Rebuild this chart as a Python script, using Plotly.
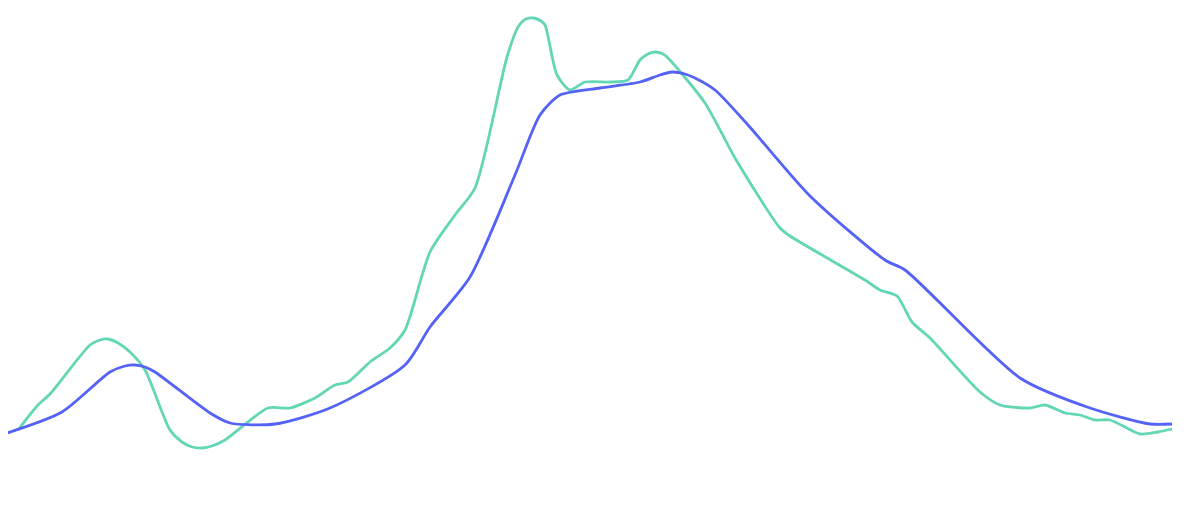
import plotly.graph_objects as go

# values (x: time step, y: level)
blue_x = [7, 62, 110, 125, 135, 145, 155, 210, 230, 275, 330, 405, 430, 470, 515,
          540, 560, 600, 640, 660, 672, 685, 695, 715, 748, 810, 885, 905, 1020,
          1090, 1150, 1172]
blue_y = [47, 68, 108, 114, 115, 113, 108, 67, 57, 56, 72, 115, 153, 203, 305,
          365, 385, 392, 398, 405, 408, 406, 402, 390, 355, 284, 220, 210, 102,
          72, 56, 56]

green_x = [18, 38, 50, 90, 100, 108, 118, 130, 145, 170, 182, 192, 202, 212, 225,
           268, 290, 315, 335, 348, 370, 390, 405, 430, 455, 475, 507, 518, 526,
           534, 541, 545, 557, 570, 585, 610, 628, 640, 648, 655, 663, 668, 705,
           735, 780, 790, 865, 880, 897, 912, 930, 980, 1000, 1030, 1045, 1065,
           1080, 1095, 1110, 1140, 1158, 1172]
green_y = [50, 75, 86, 135, 140, 141, 137, 128, 110, 50, 38, 33, 32, 34, 40,
           72, 72, 82, 95, 98, 118, 132, 150, 228, 265, 292, 423, 453, 461,
           462, 459, 455, 405, 390, 398, 398, 400, 420, 426, 428, 426, 422, 377,
           322, 252, 244, 200, 190, 184, 158, 142, 88, 75, 72, 75, 67,
           65, 60, 60, 46, 48, 51]

fig = go.Figure()
fig.add_trace(go.Scatter(
    x=green_x, y=green_y, mode="lines",
    line=dict(color="#63d6b4", width=2.8, shape="spline", smoothing=0.7),
    name="green"))
fig.add_trace(go.Scatter(
    x=blue_x, y=blue_y, mode="lines",
    line=dict(color="#5462f6", width=2.8, shape="spline", smoothing=0.7),
    name="blue"))

# page body adds an 8px offset, so the ranges are shifted to compensate
fig.update_layout(
    width=1203, height=530,
    margin=dict(l=0, r=0, t=0, b=0),
    paper_bgcolor="white", plot_bgcolor="white",
    showlegend=False,
    xaxis=dict(range=[8, 1211], visible=False),
    yaxis=dict(range=[-58, 472], visible=False),
)

fig.write_html("out.html")
